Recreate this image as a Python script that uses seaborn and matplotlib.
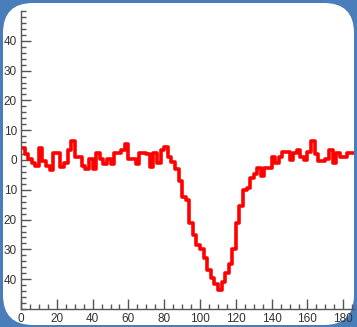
"""
plot.py
=======
Red step histogram (dip around x=110) on a white rounded panel with blue frame.
"""

import numpy as np
import pandas as pd
import matplotlib
matplotlib.use("Agg")
import matplotlib.pyplot as plt
from matplotlib.patches import FancyBboxPatch
from matplotlib.transforms import IdentityTransform
from matplotlib.ticker import MultipleLocator, FuncFormatter
import seaborn as sns

# ── data (bin width 2, starting at 0) ─────────────────────────
BIN_WIDTH = 2
bin_values = [
    4, 2, 0.5, -1, -2, 4, -0.5, -2, -3.5, 2.5,          # 0-18
    2.5, -2.5, -1, 3.5, 6.5, 1, 1, -2, -3, 0.5,          # 20-38
    -3, 2.5, 0.5, -1.5, 0.5, -1.5, 2.5, 2.5, 3.5, 5.5,   # 40-58
    0.5, 0.5, -1.5, 2.5, 2.5, 2, -2.5, 2.5, -1, 3.5,     # 60-78
    4.5, 1, -0.7, -3, -7, -12.4, -13.5, -21, -25, -28.5, # 80-98
    -30, -33, -37, -39.5, -41.5, -43.5, -41, -38, -35, -30,  # 100-118
    -21, -15.5, -10, -9.5, -6, -4.7, -2.7, -5.5, -2.7, -2.7, # 120-138
    1, -1, 1, 2.7, 2.7, 0, 2.3, 3.4, 1, 0,               # 140-158
    2.7, 6.5, 2, -0.5, -0.5, 0.5, 3.5, -1, 2.5, 1,       # 160-178
    1, 2.5, 2.5,                                         # 180-184
]
x_ticks = list(range(0, 181, 20))
y_ticks = list(range(-40, 41, 10))

BLUE = "#4a7ebb"
AXIS = "#555555"

edges = np.arange(len(bin_values) + 1) * BIN_WIDTH
df = pd.DataFrame({"x": edges, "y": bin_values + [bin_values[-1]]})

sns.set_style("white")
plt.rcParams["font.family"] = ["Liberation Sans", "DejaVu Sans"]

W, H = 357, 327
fig = plt.figure(figsize=(W / 100, H / 100), dpi=100, facecolor=BLUE)

# white rounded panel, behind the axes
panel = FancyBboxPatch((3, 2), W - 6, H - 5, boxstyle="round,pad=0,rounding_size=30",
                       transform=IdentityTransform(), facecolor="white",
                       edgecolor="none", zorder=-5)
fig.patches.append(panel)

ax = fig.add_axes([21 / W, 18 / H, 333 / W, 298 / H])
ax.set_facecolor("none")
ax.set_zorder(1)

sns.lineplot(data=df, x="x", y="y", ax=ax, drawstyle="steps-post",
             color="red", lw=2.6, estimator=None)

ax.set_xlim(0, 186)
ax.set_ylim(-50, 50)
ax.set_xlabel(""); ax.set_ylabel("")

ax.set_xticks(x_ticks)
ax.set_yticks(y_ticks)
ax.xaxis.set_minor_locator(MultipleLocator(5))
ax.yaxis.set_minor_locator(MultipleLocator(2))
ax.yaxis.set_major_formatter(FuncFormatter(lambda v, _: f"{abs(int(v))}"))

for side in ["top", "right"]:
    ax.spines[side].set_visible(False)
for side in ["left", "bottom"]:
    ax.spines[side].set_color(AXIS)
    ax.spines[side].set_linewidth(1)

ax.tick_params(which="both", bottom=True, left=True, direction="in", color=AXIS, width=1)
ax.tick_params(which="major", length=7, labelsize=8.5, labelcolor="#333333", pad=3)
ax.tick_params(which="minor", length=3.5)

fig.savefig("out.png", dpi=100, facecolor=BLUE)
